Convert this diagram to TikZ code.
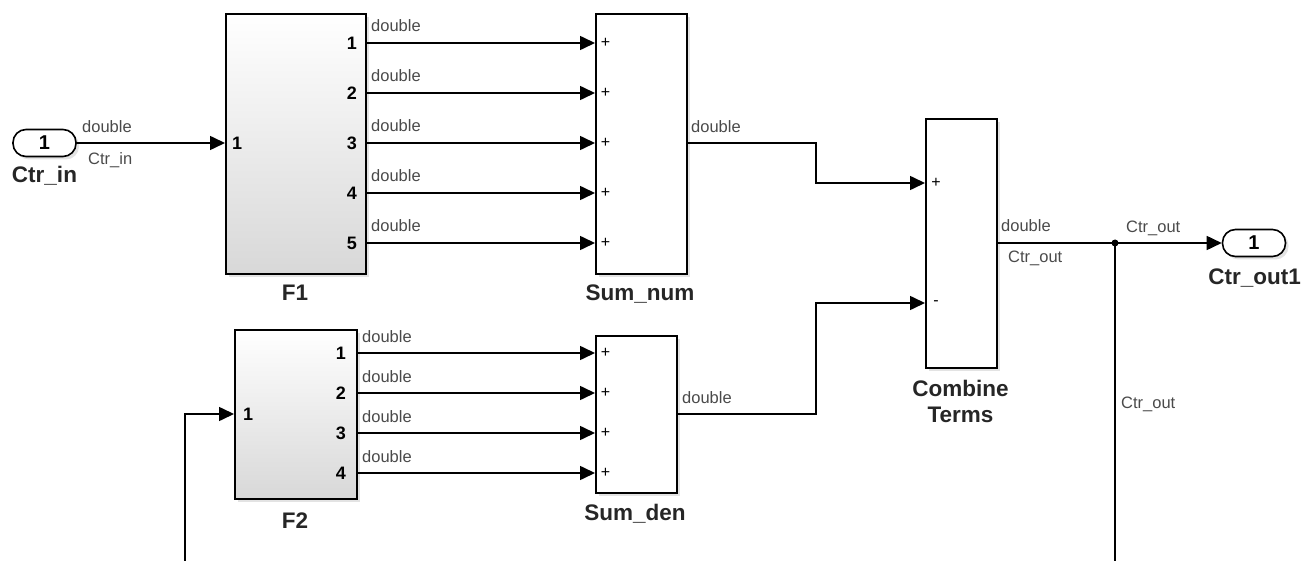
\documentclass[tikz,border=0pt]{standalone}
\usepackage{fontspec}
\setmainfont{Liberation Sans}
\usetikzlibrary{arrows.meta,shadows}
\definecolor{labgray}{HTML}{4A4A4A}
\definecolor{subbot}{HTML}{D8D8D8}
\tikzset{
  wire/.style={line width=1.6pt},
  arr/.style={wire,-{Triangle[length=15pt,width=14pt]}},
  shad/.style={drop shadow={opacity=0.22,shadow xshift=3pt,shadow yshift=-3pt}},
  sumb/.style={draw,line width=1.6pt,anchor=north west,inner sep=0pt,fill=white,shad},
  subb/.style={draw,line width=1.6pt,anchor=north west,inner sep=0pt,top color=white,bottom color=subbot,shad},
  iport/.style={draw,line width=1.6pt,rounded corners=13pt,minimum width=63pt,minimum height=27pt,inner sep=0pt,fill=white,shad,font=\fontsize{20}{22}\selectfont\bfseries},
  sig/.style={inner sep=0pt,text=labgray,font=\fontsize{16.5}{18}\selectfont},
  blab/.style={inner sep=0pt,anchor=base,text=black!85,font=\fontsize{22.5}{25}\selectfont\bfseries},
  pnum/.style={inner sep=0pt,font=\fontsize{18}{20}\selectfont\bfseries},
  sgn/.style={inner sep=0pt,font=\fontsize{16}{17}\selectfont},
  dotn/.style={circle,fill=black,inner sep=0pt,minimum size=7pt}
}
\begin{document}
\begin{tikzpicture}[x=1pt,y=-1pt]
\useasboundingbox (0,0) rectangle (1314,561);

% blocks
\node[subb,minimum width=140pt,minimum height=260pt] (F1) at (225,13) {};
\node[sumb,minimum width=91pt,minimum height=260pt] (Snum) at (595,13) {};
\node[subb,minimum width=122pt,minimum height=169pt] (F2) at (234,329) {};
\node[sumb,minimum width=81pt,minimum height=157pt] (Sden) at (595,335) {};
\node[sumb,minimum width=71pt,minimum height=249pt] (Comb) at (925,118) {};
\node[iport] (In1) at (44.5,143) {1};
\node[iport] (Out1) at (1254,243) {1};
\node[dotn] (br) at (1115,243) {};
\coordinate (brend) at (1115,561);
\coordinate (fbsrc) at (185,561);

% block labels
\node[blab] (lCtrin) at (44.5,183) {Ctr\_in};
\node[blab] (lF1) at (295,301) {F1};
\node[blab] (lSnum) at (640,301) {Sum\_num};
\node[blab] (lF2) at (295,528) {F2};
\node[blab] (lSden) at (635,520) {Sum\_den};
\node[blab] (lComb1) at (960.5,396) {Combine};
\node[blab] (lComb2) at (960.5,422) {Terms};
\node[blab] (lOut1) at (1254.5,285) {Ctr\_out1};

% port numbers
\node[pnum,anchor=west] (F1i1) at (232,143) {1};
\foreach \i/\y in {1/43,2/93,3/143,4/193,5/243}{
  \node[pnum,anchor=east] (F1p\i) at (357,\y) {\i};
  \node[sgn] (Snp\i) at (605.5,\y) {+};
}
\node[pnum,anchor=west] (F2i1) at (243,414) {1};
\foreach \i/\y in {1/353,2/393,3/433,4/473}{
  \node[pnum,anchor=east] (F2p\i) at (346,\y) {\i};
  \node[sgn] (Sdp\i) at (605.5,\y) {+};
}
\node[sgn] (Cp1) at (936,183) {+};
\node[sgn] (Cp2) at (936,303) {-};

% connectors
\draw[arr] (In1.east) -- (F1.west |- In1.east);
\foreach \y in {43,93,143,193,243}{
  \draw[arr] (F1.east |- 0,\y) -- (Snum.west |- 0,\y);
}
\foreach \y in {353,393,433,473}{
  \draw[arr] (F2.east |- 0,\y) -- (Sden.west |- 0,\y);
}
\draw[arr] (Snum.east |- 0,143) -| (816,183) -- (Comb.west |- 0,183);
\draw[arr] (Sden.east |- 0,414) -| (816,303) -- (Comb.west |- 0,303);
\draw[wire] (Comb.east |- br.center) -- (br.center);
\draw[arr] (br.center) -- (Out1.west);
\draw[wire] (br.center) -- (brend);
\draw[arr] (fbsrc) |- (F2.west |- 0,414);

% signal labels
\node[sig,anchor=base west] (s1) at (82,133) {double};
\node[sig,anchor=base west] (s2) at (88,165) {Ctr\_in};
\foreach \i/\y in {1/32,2/82,3/132,4/182,5/232}{
  \node[sig,anchor=base west] (sf1\i) at (371,\y) {double};
}
\foreach \i/\y in {1/342,2/382,3/422,4/462}{
  \node[sig,anchor=base west] (sf2\i) at (362,\y) {double};
}
\node[sig,anchor=base west] (s3) at (691,133) {double};
\node[sig,anchor=base west] (s4) at (682,403) {double};
\node[sig,anchor=base west] (s5) at (1001,232) {double};
\node[sig,anchor=base west] (s6) at (1008,263) {Ctr\_out};
\node[sig,anchor=base west] (s7) at (1126,233) {Ctr\_out};
\node[sig,anchor=base west] (s8) at (1121,408) {Ctr\_out};
\end{tikzpicture}
\end{document}
